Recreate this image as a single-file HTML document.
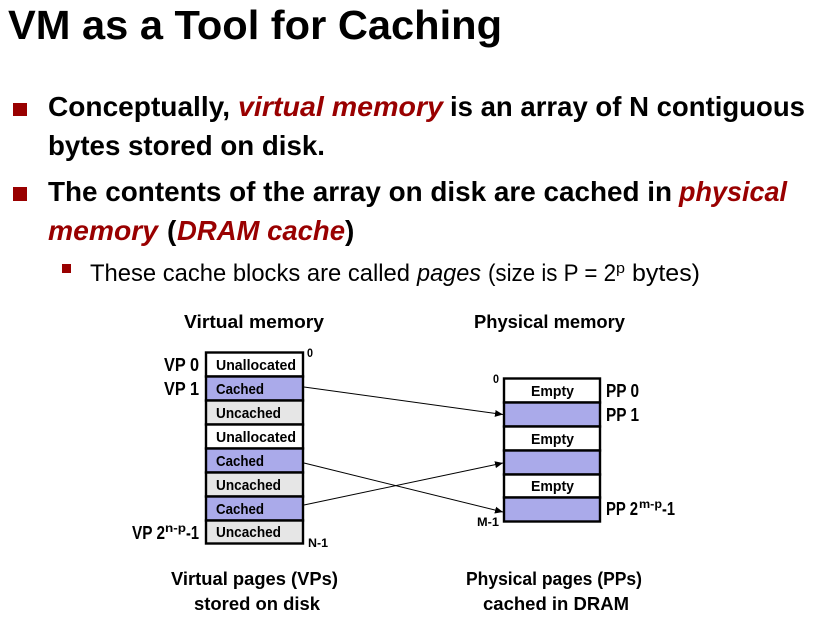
<!DOCTYPE html>
<html><head><meta charset="utf-8"><style>
html,body{margin:0;padding:0;background:#fff}
svg{display:block}
text{font-family:"Liberation Sans",sans-serif;fill:#000;white-space:pre}
.b{font-weight:bold}
.r{font-weight:bold;font-style:italic;fill:#990000}
.c{font-weight:bold;font-size:15px}
.l{font-weight:bold;font-size:18.5px}
.s{font-weight:bold;font-size:11.5px}
</style></head><body>
<svg width="819" height="624" viewBox="0 0 819 624" xmlns="http://www.w3.org/2000/svg">
<defs><marker id="a" markerWidth="9" markerHeight="9" refX="8" refY="4" orient="auto" markerUnits="userSpaceOnUse"><path d="M0 0.5L8 4L0 7.5Z" fill="#000"/></marker></defs>
<rect width="819" height="624" fill="#fff"/>
<text class="b" x="8" y="39" font-size="41" textLength="494" lengthAdjust="spacingAndGlyphs">VM as a Tool for Caching</text>

<rect x="13" y="103" width="14" height="13" fill="#990000"/>
<text class="b" x="48" y="116" font-size="28" textLength="182" lengthAdjust="spacingAndGlyphs">Conceptually,</text>
<text class="r" x="238" y="116" font-size="28" textLength="205" lengthAdjust="spacingAndGlyphs">virtual memory</text>
<text class="b" x="450" y="116" font-size="28" textLength="355" lengthAdjust="spacingAndGlyphs">is an array of N contiguous</text>
<text class="b" x="48" y="155" font-size="28" textLength="277" lengthAdjust="spacingAndGlyphs">bytes stored on disk.</text>

<rect x="13" y="187" width="14" height="14" fill="#990000"/>
<text class="b" x="48" y="201" font-size="28" textLength="624" lengthAdjust="spacingAndGlyphs">The contents of the array on disk are cached in</text>
<text class="r" x="679" y="201" font-size="28" textLength="108" lengthAdjust="spacingAndGlyphs">physical</text>
<text class="r" x="48" y="240" font-size="28" textLength="110" lengthAdjust="spacingAndGlyphs">memory</text>
<text class="b" x="167" y="240" font-size="28">(</text>
<text class="r" x="177" y="240" font-size="28" textLength="168" lengthAdjust="spacingAndGlyphs">DRAM cache</text>
<text class="b" x="345" y="240" font-size="28">)</text>

<rect x="62" y="264" width="9" height="9" fill="#990000"/>
<text x="90" y="281" font-size="24" textLength="320" lengthAdjust="spacingAndGlyphs">These cache blocks are called</text>
<text x="417" y="281" font-size="24" font-style="italic" textLength="64" lengthAdjust="spacingAndGlyphs">pages</text>
<text x="488" y="281" font-size="24" textLength="128" lengthAdjust="spacingAndGlyphs">(size is P = 2</text>
<text x="616" y="273" font-size="15" textLength="9" lengthAdjust="spacingAndGlyphs">p</text>
<text x="632" y="281" font-size="24" textLength="68" lengthAdjust="spacingAndGlyphs">bytes)</text>

<text class="l" x="184" y="328" textLength="140" lengthAdjust="spacingAndGlyphs">Virtual memory</text>
<text class="l" x="474" y="328" textLength="151" lengthAdjust="spacingAndGlyphs">Physical memory</text>

<g stroke="#000" stroke-width="2.4">
<rect x="206" y="352.5" width="97" height="24" fill="#fff"/>
<rect x="206" y="376.5" width="97" height="24" fill="#AAAAEA"/>
<rect x="206" y="400.5" width="97" height="24" fill="#E6E6E6"/>
<rect x="206" y="424.5" width="97" height="24" fill="#fff"/>
<rect x="206" y="448.5" width="97" height="24" fill="#AAAAEA"/>
<rect x="206" y="472.5" width="97" height="24" fill="#E6E6E6"/>
<rect x="206" y="496.5" width="97" height="24" fill="#AAAAEA"/>
<rect x="206" y="520.5" width="97" height="23" fill="#E6E6E6"/>
<rect x="504" y="378.5" width="96" height="24" fill="#fff"/>
<rect x="504" y="402.5" width="96" height="24" fill="#AAAAEA"/>
<rect x="504" y="426.5" width="96" height="24" fill="#fff"/>
<rect x="504" y="450.5" width="96" height="24" fill="#AAAAEA"/>
<rect x="504" y="474.5" width="96" height="23" fill="#fff"/>
<rect x="504" y="497.5" width="96" height="24" fill="#AAAAEA"/>
</g>

<text class="c" x="216" y="370" textLength="80" lengthAdjust="spacingAndGlyphs">Unallocated</text>
<text class="c" x="216" y="394" textLength="48" lengthAdjust="spacingAndGlyphs">Cached</text>
<text class="c" x="216" y="418" textLength="65" lengthAdjust="spacingAndGlyphs">Uncached</text>
<text class="c" x="216" y="442" textLength="80" lengthAdjust="spacingAndGlyphs">Unallocated</text>
<text class="c" x="216" y="466" textLength="48" lengthAdjust="spacingAndGlyphs">Cached</text>
<text class="c" x="216" y="490" textLength="65" lengthAdjust="spacingAndGlyphs">Uncached</text>
<text class="c" x="216" y="514" textLength="48" lengthAdjust="spacingAndGlyphs">Cached</text>
<text class="c" x="216" y="537" textLength="65" lengthAdjust="spacingAndGlyphs">Uncached</text>
<text class="c" x="531" y="396" textLength="43" lengthAdjust="spacingAndGlyphs">Empty</text>
<text class="c" x="531" y="444" textLength="43" lengthAdjust="spacingAndGlyphs">Empty</text>
<text class="c" x="531" y="491" textLength="43" lengthAdjust="spacingAndGlyphs">Empty</text>

<text class="l" x="164" y="371" textLength="35" lengthAdjust="spacingAndGlyphs">VP 0</text>
<text class="l" x="164" y="395" textLength="35" lengthAdjust="spacingAndGlyphs">VP 1</text>
<text class="l" x="132" y="539" textLength="33" lengthAdjust="spacingAndGlyphs">VP 2</text>
<text class="s" x="165" y="532" textLength="21" lengthAdjust="spacingAndGlyphs">n-p</text>
<text class="l" x="186" y="539" textLength="13" lengthAdjust="spacingAndGlyphs">-1</text>

<text class="l" x="606" y="397" textLength="33" lengthAdjust="spacingAndGlyphs">PP 0</text>
<text class="l" x="606" y="421" textLength="33" lengthAdjust="spacingAndGlyphs">PP 1</text>
<text class="l" x="606" y="515" textLength="32" lengthAdjust="spacingAndGlyphs">PP 2</text>
<text class="s" x="639" y="508" textLength="23" lengthAdjust="spacingAndGlyphs">m-p</text>
<text class="l" x="662" y="515" textLength="13" lengthAdjust="spacingAndGlyphs">-1</text>

<text class="s" x="307" y="357" textLength="6" lengthAdjust="spacingAndGlyphs">0</text>
<text class="s" x="308" y="547" textLength="20" lengthAdjust="spacingAndGlyphs">N-1</text>
<text class="s" x="493" y="383" textLength="6" lengthAdjust="spacingAndGlyphs">0</text>
<text class="s" x="477" y="526" textLength="22" lengthAdjust="spacingAndGlyphs">M-1</text>

<g stroke="#000" stroke-width="1" fill="none">
<line x1="304" y1="387" x2="503" y2="414.5" marker-end="url(#a)"/>
<line x1="304" y1="463" x2="503" y2="512" marker-end="url(#a)"/>
<line x1="304" y1="505" x2="503" y2="463" marker-end="url(#a)"/>
</g>

<text class="l" x="171" y="585" textLength="167" lengthAdjust="spacingAndGlyphs">Virtual pages (VPs)</text>
<text class="l" x="194" y="610" textLength="126" lengthAdjust="spacingAndGlyphs">stored on disk</text>
<text class="l" x="466" y="585" textLength="176" lengthAdjust="spacingAndGlyphs">Physical pages (PPs)</text>
<text class="l" x="483" y="610" textLength="146" lengthAdjust="spacingAndGlyphs">cached in DRAM</text>
</svg>
</body></html>
